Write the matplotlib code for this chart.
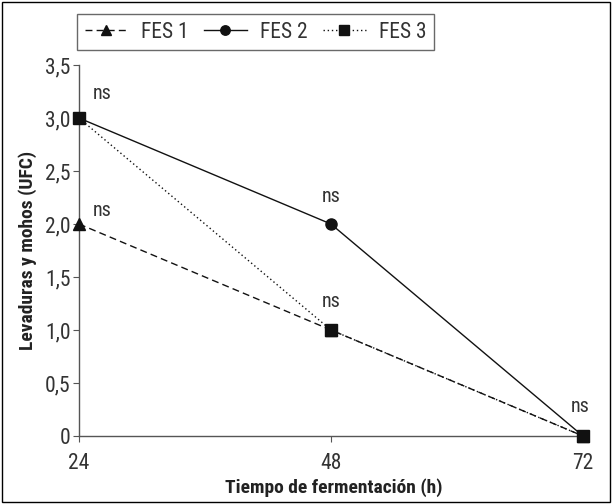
import matplotlib
matplotlib.use("Agg")
import matplotlib.pyplot as plt
from matplotlib.patches import Rectangle
from matplotlib import font_manager

# pick a narrow font if one is around
names = set(f.name for f in font_manager.fontManager.ttflist)
narrow = [n for n in ['Liberation Sans Narrow', 'Roboto Condensed', 'Open Sans Condensed',
                      'DejaVu Sans Condensed', 'Noto Sans Condensed'] if n in names]
plt.rcParams['font.family'] = narrow + ['Liberation Sans', 'DejaVu Sans']

# data
horas = [24, 48, 72]
fes1 = [2.0, 1.0, 0.0]
fes2 = [3.0, 2.0, 0.0]
fes3 = [3.0, 1.0, 0.0]
yticks = [0, 0.5, 1.0, 1.5, 2.0, 2.5, 3.0, 3.5]
ytick_labels = ['0', '0,5', '1,0', '1,5', '2,0', '2,5', '3,0', '3,5']
ns_pos = [(24, 3.0), (24, 2.0), (48, 2.0), (48, 1.0), (72, 0.0)]
ns_off = [(23, 25), (23, 13), (0, 27), (0, 28), (-3, 29)]

fig = plt.figure(figsize=(6.12, 5.04), dpi=100)
ax = fig.add_axes([0.129, 0.135, 0.832, 0.736])

ax.plot(horas, fes1, color='#111111', lw=1, ls=(0, (5, 3)), marker='^', ms=8,
        label='FES 1', clip_on=False, zorder=3)
ax.plot(horas, fes2, color='#111111', lw=1, ls='-', marker='o', ms=8,
        label='FES 2', clip_on=False, zorder=3)
ax.plot(horas, fes3, color='#111111', lw=1, ls=(0, (1, 2)), marker='s', ms=8,
        label='FES 3', clip_on=False, zorder=3)

for (x, y), (dx, dy) in zip(ns_pos, ns_off):
    ax.annotate('ns', (x, y), xytext=(dx, dy), textcoords='offset pixels',
                ha='center', va='center', fontsize=14.5, color='#333333')

ax.set_xlim(24, 72.5)
ax.set_ylim(0, 3.5)
ax.set_xticks(horas)
ax.set_yticks(yticks)
ax.set_yticklabels(ytick_labels)
ax.tick_params(labelsize=15.5, direction='out', length=4, width=0.8,
               colors='#555555', labelcolor='#333333')
ax.tick_params(axis='x', pad=8)
ax.tick_params(axis='y', pad=2)
ax.spines['top'].set_visible(False)
ax.spines['right'].set_visible(False)
for s in ['left', 'bottom']:
    ax.spines[s].set_color('#555555')
    ax.spines[s].set_linewidth(1)

ax.set_xlabel('Tiempo de fermentación (h)', fontsize=14, fontweight='bold', labelpad=3,
              color='#222222')
ax.set_ylabel('Levaduras y mohos (UFC)', fontsize=14, fontweight='bold', labelpad=6,
              color='#222222')

leg = ax.legend(loc='lower left', bbox_to_anchor=(-0.003, 1.04, 0.70, 0.08), ncol=3,
                mode='expand', frameon=True, fancybox=False, fontsize=15.5,
                handlelength=2.0, borderaxespad=0, handletextpad=0.6, columnspacing=1.0,
                borderpad=0.35, markerscale=0.85)
leg.get_frame().set_edgecolor('#444444')
leg.get_frame().set_linewidth(1)
for t in leg.get_texts():
    t.set_color('#333333')

fig.patches.append(Rectangle((0.004, 0.004), 0.992, 0.992, transform=fig.transFigure,
                             fill=False, edgecolor='black', lw=1))

fig.savefig('out.png', dpi=100)
